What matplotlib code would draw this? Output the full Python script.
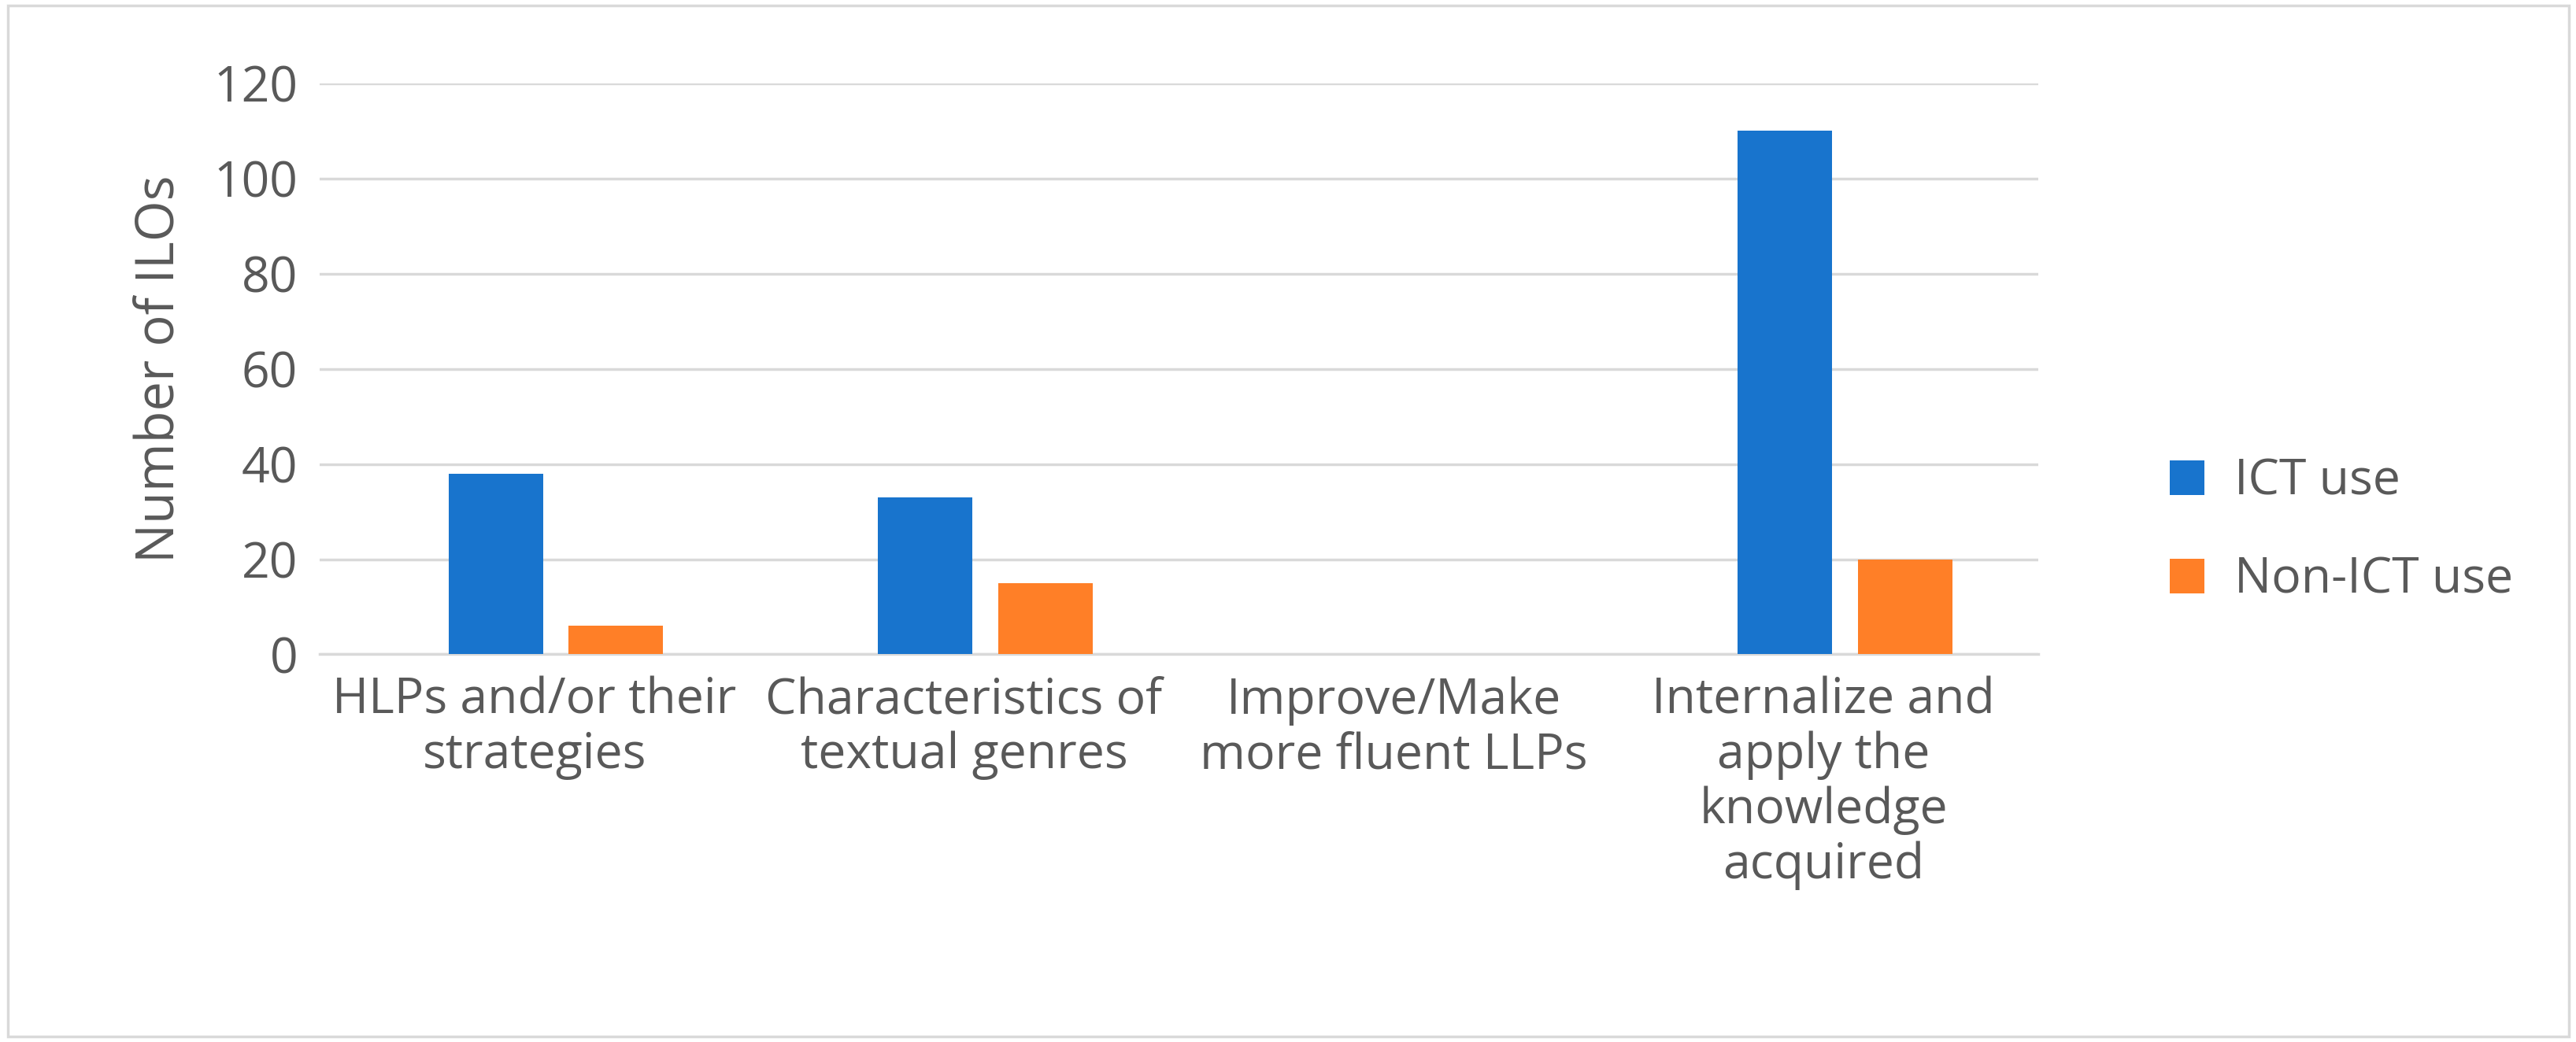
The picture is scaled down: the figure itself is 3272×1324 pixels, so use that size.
import matplotlib
matplotlib.use("Agg")
import matplotlib.pyplot as plt
from matplotlib.patches import Rectangle
import numpy as np

categories = ["HLPs and/or their\nstrategies", "Characteristics of\ntextual genres",
              "Improve/Make\nmore fluent LLPs", "Internalize and\napply the\nknowledge\nacquired"]
ict = [38, 33, 0, 110]
non_ict = [6, 15, 0, 20]

TXT = "#595959"
plt.rcParams["font.family"] = ["Open Sans", "DejaVu Sans"]

fig = plt.figure(figsize=(32.73, 13.24), dpi=100)
ax = fig.add_axes([0.124, 0.372, 0.667, 0.548])
x = np.arange(len(categories))
w = 0.22
ax.bar(x - 0.09, ict, w, color="#1874CD", label="ICT use", zorder=3)
ax.bar(x + 0.19, non_ict, w, color="#FF7F27", label="Non-ICT use", zorder=3)

ax.set_xlim(-0.5, 3.5)
ax.set_ylim(0, 120)
ax.set_yticks(range(0, 121, 20))
ax.yaxis.grid(True, color="#d9d9d9", linewidth=2.5, zorder=0)
for s in ["top", "right", "left"]:
    ax.spines[s].set_visible(False)
ax.spines["bottom"].set_color("#d9d9d9")
ax.spines["bottom"].set_linewidth(2.5)
ax.tick_params(axis="both", length=0, labelsize=45, colors=TXT, pad=20)
ax.set_xticks(x)
ax.set_xticklabels(categories, va="top", linespacing=1.15)
ax.set_ylabel("Number of ILOs", fontsize=48, color=TXT, labelpad=25)

fig.legend(loc="center left", bbox_to_anchor=(0.825, 0.49), frameon=False,
           fontsize=45, labelcolor=TXT, handlelength=0.7, handleheight=0.7,
           labelspacing=1.0, handletextpad=0.6)

fig.patches.append(Rectangle((0.003, 0.005), 0.994, 0.99, transform=fig.transFigure,
                             fill=False, edgecolor="#d9d9d9", linewidth=2.5))
fig.savefig("out.png", dpi=100)
